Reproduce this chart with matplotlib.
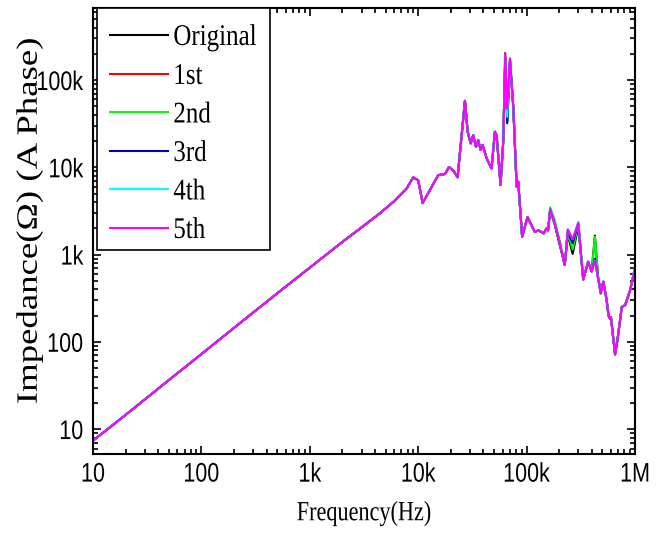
import matplotlib.pyplot as plt
from matplotlib.patheffects import AbstractPathEffect
from matplotlib.transforms import Affine2D
from matplotlib.ticker import FixedLocator, FixedFormatter, LogLocator, NullFormatter

# impedance sweep, A phase - low band is the same for every run
freq_lf = [10, 20, 50, 100, 200, 500, 1000, 2000, 3000, 4450, 6000, 7830, 9000,
           10000, 11000, 15300, 17700, 19200, 21100, 23100, 27000, 28600, 30500,
           32200, 34100, 35800, 37700, 39300, 42800, 47500, 51000, 52900]
imp_lf = [7.4, 14.6, 36.5, 72.5, 145, 360, 710, 1400, 2050, 2990, 4100, 5740, 7670,
          7100, 3900, 8150, 8400, 10100, 9200, 7700, 57900, 25600, 18800,
          23400, 17200, 20500, 15800, 18000, 12700, 9700, 25600, 23400]

# high band, where the runs split apart
freq_hf = [57500, 61000, 63500, 66300, 70300, 75400, 81000, 83700, 91000, 102000,
           119000, 128000, 137000, 144000, 153000, 158000, 165000, 182000, 199000,
           225000, 240000, 266000, 300000, 333000, 370000, 398000, 427000, 459000,
           483000, 511000, 548000, 570000, 588000, 600000, 655000, 689000, 756000,
           811000, 902000, 1000000]
imp_orig = [6300, 20500, 185000, 33000, 165000, 49000, 6000, 6850, 1600, 2700,
            1820, 1900, 1820, 1750, 2000, 1900, 3250, 2200, 1400,
            760, 1700, 1020, 2100, 520, 830, 640, 1650, 520,
            400, 490, 300, 200, 185, 193, 72, 105, 252,
            264, 391, 700]
imp_1st = [6300, 20500, 205000, 40000, 175000, 49000, 6000, 6850, 1600, 2700,
           1820, 1900, 1820, 1750, 2000, 1900, 3300, 2250, 1480,
           760, 1900, 1450, 2300, 520, 830, 640, 880, 520,
           360, 490, 300, 200, 185, 193, 72, 105, 252,
           264, 391, 700]
imp_2nd = [6300, 20500, 190000, 36000, 170000, 49000, 6000, 6850, 1600, 2700,
           1820, 1900, 1820, 1750, 2000, 1900, 3500, 2500, 1550,
           760, 1750, 1150, 2200, 520, 830, 640, 1600, 520,
           380, 490, 300, 200, 185, 193, 72, 105, 252,
           264, 391, 700]
imp_3rd = [6300, 20500, 180000, 32000, 168000, 49000, 6000, 6900, 1600, 2700,
           1820, 1900, 1820, 1750, 2000, 1900, 3300, 2250, 1480,
           760, 1850, 1350, 2300, 520, 830, 640, 900, 520,
           360, 490, 300, 200, 185, 193, 72, 105, 252,
           264, 391, 700]
imp_4th = [6300, 20500, 188000, 38000, 172000, 49000, 6000, 6850, 1600, 2700,
           1820, 1900, 1820, 1750, 2000, 1900, 3300, 2250, 1500,
           760, 1950, 1500, 2400, 520, 830, 640, 860, 520,
           360, 490, 300, 200, 185, 193, 72, 105, 252,
           264, 391, 720]
imp_5th = [6300, 20500, 195000, 47000, 178000, 49000, 6000, 6850, 1600, 2700,
           1820, 1900, 1820, 1750, 2000, 1900, 3300, 2250, 1500,
           760, 1950, 1500, 2300, 520, 830, 640, 850, 520,
           360, 490, 300, 200, 185, 193, 72, 105, 252,
           264, 391, 700]

labels = ["Original", "1st", "2nd", "3rd", "4th", "5th"]
colors = ["#000000", "#ff0000", "#00ff00", "#0000c0", "#00ffff", "#ff00ff"]
runs = [imp_orig, imp_1st, imp_2nd, imp_3rd, imp_4th, imp_5th]

xtick_vals = [10, 100, 1e3, 1e4, 1e5, 1e6]
xtick_text = ["10", "100", "1k", "10k", "100k", "1M"]
ytick_vals = [10, 100, 1e3, 1e4, 1e5]
ytick_text = ["10", "100", "1k", "10k", "100k"]

serif = ["Liberation Serif", "DejaVu Serif"]
sans = ["Liberation Sans", "DejaVu Sans"]


class Stretch(AbstractPathEffect):
    """Scale outlines about their own centre, then shift by (dx, dy) pixels."""

    def __init__(self, sx=1.0, sy=1.0, dx=0.0, dy=0.0):
        super().__init__()
        self.sx, self.sy, self.dx, self.dy = sx, sy, dx, dy

    def draw_path(self, renderer, gc, tpath, affine, rgbFace=None):
        ext = tpath.get_extents()
        cx, cy = (ext.x0 + ext.x1) / 2, (ext.y0 + ext.y1) / 2
        st = Affine2D().translate(-cx, -cy).scale(self.sx, self.sy).translate(cx, cy)
        shift = Affine2D().translate(self.dx, self.dy)
        renderer.draw_path(gc, tpath, st + affine + shift, rgbFace)


tall = [Stretch(1.0, 1.25)]

fig = plt.figure(figsize=(6.72, 5.34), dpi=100)
ax = fig.add_axes([0.1384, 0.1498, 0.8065, 0.8352])

freq = freq_lf + freq_hf
for lab, col, hf in zip(labels, colors, runs):
    ax.plot(freq, imp_lf + hf, color=col, lw=1.5, label=lab)

ax.set_xscale("log")
ax.set_yscale("log")
ax.set_xlim(10, 1e6)
ax.set_ylim(5.2, 670000)

ax.xaxis.set_major_locator(FixedLocator(xtick_vals))
ax.xaxis.set_major_formatter(FixedFormatter(xtick_text))
ax.yaxis.set_major_locator(FixedLocator(ytick_vals))
ax.yaxis.set_major_formatter(FixedFormatter(ytick_text))
ax.xaxis.set_minor_locator(LogLocator(base=10, subs=range(2, 10), numticks=20))
ax.yaxis.set_minor_locator(LogLocator(base=10, subs=range(2, 10), numticks=20))
ax.xaxis.set_minor_formatter(NullFormatter())
ax.yaxis.set_minor_formatter(NullFormatter())

ax.tick_params(which="both", direction="in", top=True, right=True, width=1.2)
ax.tick_params(which="major", length=6, labelsize=15.5)
ax.tick_params(which="minor", length=3.5)
ax.tick_params(axis="x", which="major", pad=7)
ax.tick_params(axis="y", which="major", pad=7)
for t in ax.get_xticklabels() + ax.get_yticklabels():
    t.set_family(sans)
    t.set_path_effects(tall)
for sp in ax.spines.values():
    sp.set_linewidth(1.5)

ax.set_xlabel("Frequency(Hz)", family=serif, fontsize=16, labelpad=14,
              path_effects=tall)
ax.set_ylabel("Impedance(\u03a9) (A Phase)", family=serif, fontsize=26.5,
              path_effects=[Stretch(1.0, 0.8)])
ax.yaxis.label.set_va("center")
ax.yaxis.set_label_coords(-0.118, 0.522)

leg = ax.legend(loc="upper left", bbox_to_anchor=(0.0075, 1.0), borderaxespad=0,
                prop={"family": serif, "size": 18},
                frameon=True, fancybox=False, edgecolor="black", framealpha=1,
                handlelength=2.32, handletextpad=0.2, labelspacing=0.64,
                borderpad=0.53)
leg.get_frame().set_linewidth(1.2)
# rows sit a little lower in the box than the default layout puts them
for t in leg.get_texts():
    t.set_path_effects([Stretch(1.0, 1.2, dy=-5)])
for ln in leg.get_lines():
    ln.set_path_effects([Stretch(dy=-5)])

fig.savefig("out.png", dpi=100)
